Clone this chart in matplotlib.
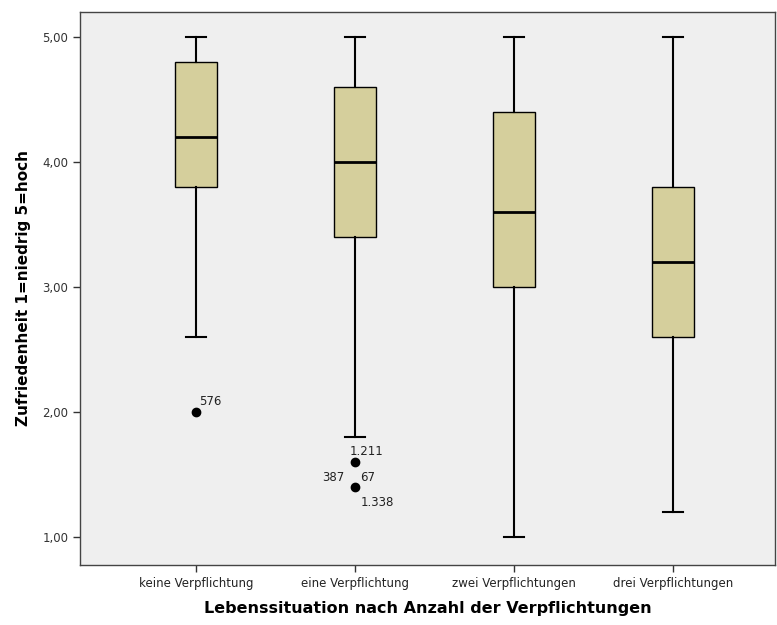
import matplotlib
matplotlib.use("Agg")
import matplotlib.pyplot as plt

# groups and box statistics
groups = ["keine Verpflichtung", "eine Verpflichtung", "zwei Verpflichtungen", "drei Verpflichtungen"]
whislo = [2.6, 1.8, 1.0, 1.2]
q1 = [3.8, 3.4, 3.0, 2.6]
med = [4.2, 4.0, 3.6, 3.2]
q3 = [4.8, 4.6, 4.4, 3.8]
whishi = [5.0, 5.0, 5.0, 5.0]
fliers = [[2.0], [1.6, 1.4], [], []]

# outlier case labels: (group index, value, text, dx, dy) offsets in points
flier_labels = [
    (0, 2.0, "576", 2, 8),
    (1, 1.6, "1.211", -4, 8),
    (1, 1.4, "387", -24, 7),
    (1, 1.4, "67", 4, 7),
    (1, 1.4, "1.338", 4, -11),
]

yticks = [1, 2, 3, 4, 5]

stats = []
for i in range(len(groups)):
    stats.append(dict(whislo=whislo[i], q1=q1[i], med=med[i], q3=q3[i],
                      whishi=whishi[i], fliers=fliers[i], label=groups[i]))

fig = plt.figure(figsize=(7.77, 6.25), dpi=100)
ax = fig.add_axes([0.103, 0.096, 0.894, 0.885])
ax.set_facecolor("#EFEFEF")

pos = list(range(len(groups)))
ax.bxp(stats, positions=pos, widths=0.265, patch_artist=True,
       boxprops=dict(facecolor="#D5CF9C", edgecolor="black", linewidth=1),
       medianprops=dict(color="black", linewidth=2),
       whiskerprops=dict(color="black", linewidth=1.5),
       capprops=dict(color="black", linewidth=1.5),
       flierprops=dict(marker="o", markerfacecolor="black", markeredgecolor="black", markersize=6),
       capwidths=0.13)

for gi, val, txt, dx, dy in flier_labels:
    ax.annotate(txt, (pos[gi], val), xytext=(dx, dy), textcoords="offset points",
                fontsize=8.5, color="#222222", ha="left", va="center")

ax.set_xlim(-0.73, 3.64)
ax.set_ylim(0.78, 5.2)
ax.set_yticks(yticks)
ax.set_yticklabels([("%.2f" % v).replace(".", ",") for v in yticks], fontsize=8.5, color="#333333")
ax.set_xticks(pos)
ax.set_xticklabels(groups, fontsize=8.5, color="#222222")
ax.tick_params(length=5, width=1, color="#333333")

ax.set_ylabel("Zufriedenheit 1=niedrig 5=hoch", fontsize=11, fontweight="bold", labelpad=8)
ax.set_xlabel("Lebenssituation nach Anzahl der Verpflichtungen", fontsize=11.5, fontweight="bold", labelpad=8)

for s in ax.spines.values():
    s.set_color("#444444")
    s.set_linewidth(1)

fig.savefig("out.png", dpi=100)
